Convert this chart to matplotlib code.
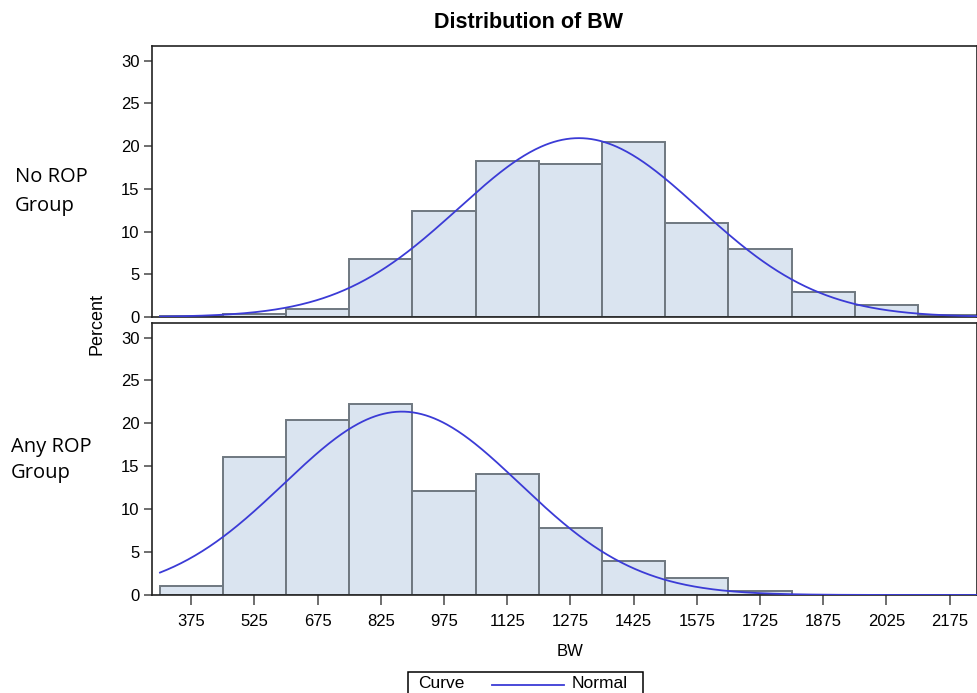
import numpy as np
import matplotlib.pyplot as plt
from matplotlib.patches import Rectangle
from matplotlib.lines import Line2D

# ---- data ----
bin_centers = [375, 525, 675, 825, 975, 1125, 1275, 1425, 1575, 1725, 1875, 2025, 2175]
bin_width = 150
no_rop_pct = [0.1, 0.3, 0.9, 6.8, 12.4, 18.2, 17.9, 20.5, 11.0, 7.9, 2.9, 1.4, 0.2]
any_rop_pct = [1.05, 16.1, 20.4, 22.3, 12.1, 14.1, 7.8, 4.0, 2.0, 0.5, 0.0, 0.0, 0.0]
# fitted normal parameters (mean, sd) for each group
no_rop_normal = (1295, 286)
any_rop_normal = (875, 280)
panel_labels = ["No ROP\nGroup", "Any ROP\nGroup"]
yticks = [0, 5, 10, 15, 20, 25, 30]

W, H = 977, 693
fig = plt.figure(figsize=(W / 100, H / 100), dpi=100)
plt.rcParams['font.family'] = ['Liberation Sans', 'DejaVu Sans']

bar_fill = '#DAE4F0'
bar_edge = '#6F7880'
curve_col = '#3B3BD6'

xlim = (282, 2240)
ylim = (0, 31.7)

def fx(px):
    return px / W

def fy(py):
    return 1 - py / H

left = fx(152)
ax_top = fig.add_axes([left, fy(317), 1.0 - left, fy(46) - fy(317)])
ax_bot = fig.add_axes([left, fy(595), 1.0 - left, fy(323) - fy(595)])

xs = np.linspace(301, 2300, 600)

for ax, vals, (mu, sd) in [(ax_top, no_rop_pct, no_rop_normal),
                           (ax_bot, any_rop_pct, any_rop_normal)]:
    ax.bar(bin_centers, vals, width=bin_width, color=bar_fill,
           edgecolor=bar_edge, linewidth=1.4, zorder=2)
    dens = 100 * bin_width / (sd * np.sqrt(2 * np.pi)) * np.exp(-0.5 * ((xs - mu) / sd) ** 2)
    ax.plot(xs, dens, color=curve_col, lw=1.3, zorder=3)
    ax.set_xlim(*xlim)
    ax.set_ylim(*ylim)
    ax.set_yticks(yticks)
    ax.tick_params(axis='y', direction='out', length=6, width=1.2,
                   color='#555555', labelsize=12, pad=3)
    for s in ax.spines.values():
        s.set_linewidth(1.2)
        s.set_color('#222222')

ax_top.set_xticks(bin_centers)
ax_top.tick_params(axis='x', bottom=False, labelbottom=False)
ax_bot.set_xticks(bin_centers)
ax_bot.set_xticklabels([str(c) for c in bin_centers])
ax_bot.tick_params(axis='x', direction='out', length=7, width=1.2,
                   color='#555555', labelsize=12, pad=7)

fig.text(fx(528), fy(23), "Distribution of BW", ha='center', va='center',
         fontsize=15.5, fontweight='bold')
fig.text(fx(97), fy(324), "Percent", rotation=90, ha='center', va='center', fontsize=13)
fig.text(fx(570), fy(652), "BW", ha='center', va='center', fontsize=12)

fig.text(fx(15), fy(191), panel_labels[0], ha='left', va='center', fontsize=14.5,
         family=['Open Sans', 'DejaVu Sans'], linespacing=1.6)
fig.text(fx(11), fy(460), panel_labels[1], ha='left', va='center', fontsize=14.5,
         family=['Open Sans', 'DejaVu Sans'], linespacing=1.4)

# legend box
fig.patches.append(Rectangle((fx(408), fy(700)), fx(643) - fx(408), fy(672) - fy(700),
                             transform=fig.transFigure, fill=False, edgecolor='black',
                             linewidth=1.1))
fig.text(fx(418), fy(684), "Curve", ha='left', va='center', fontsize=12.5)
fig.lines.append(Line2D([fx(492), fx(564)], [fy(685), fy(685)], transform=fig.transFigure,
                        color=curve_col, lw=1.3))
fig.text(fx(572), fy(684), "Normal", ha='left', va='center', fontsize=12.5)

fig.savefig("out.png", dpi=100)
